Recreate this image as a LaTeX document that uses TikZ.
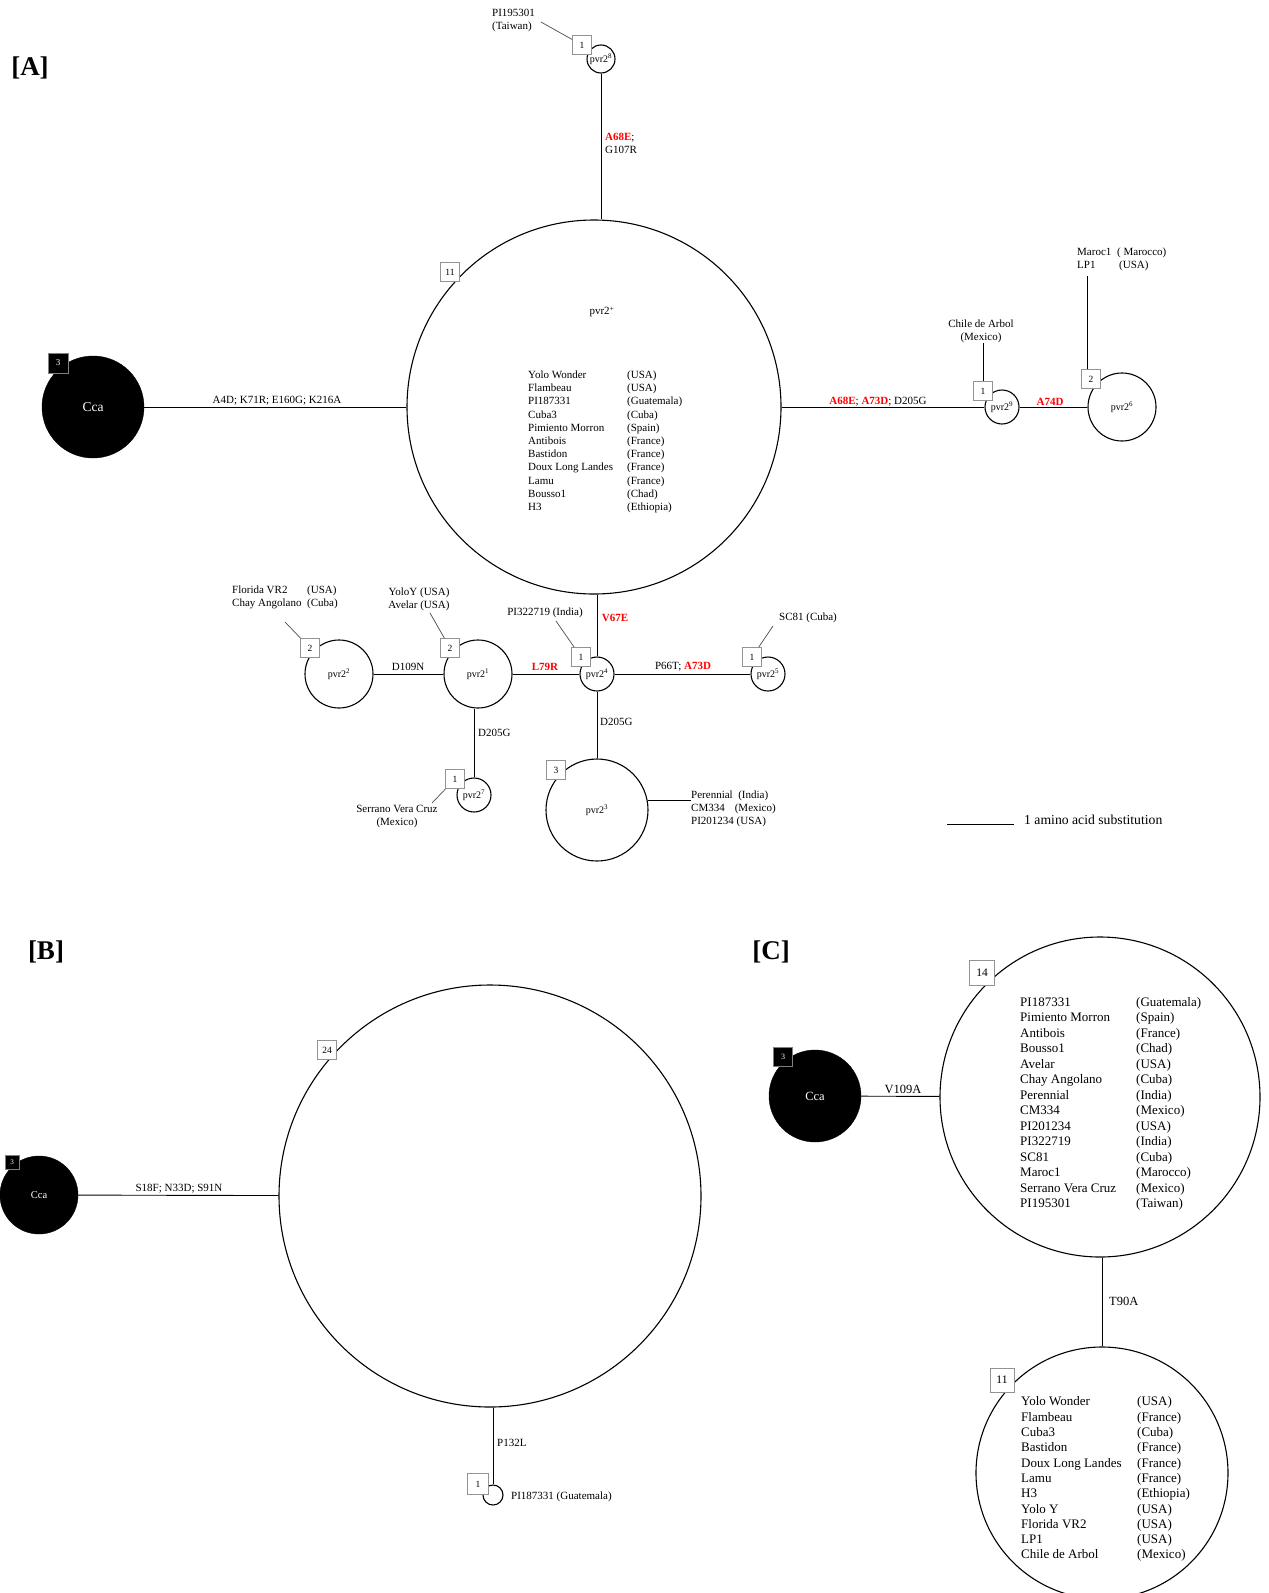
\documentclass[tikz,border=0pt]{standalone}
\usepackage{fontspec}
\setmainfont{Liberation Serif}
\begin{document}
\begin{tikzpicture}[x=1pt,y=-1pt,
 hap/.style={circle,draw,line width=1.1pt,inner sep=0pt,minimum size=#1,font=\fontsize{10}{10}\selectfont},
 outg/.style={circle,fill=black,draw=black,inner sep=0pt,minimum size=#1,text=white},
 cnt/.style={draw=gray!85,fill=white,line width=0.9pt,inner sep=0pt,minimum size=#1,font=\fontsize{9.5}{10}\selectfont},
 cntb/.style={draw=gray,fill=black,text=white,line width=0.9pt,inner sep=0pt,minimum size=#1,font=\fontsize{8}{9}\selectfont},
 edge/.style={line width=0.9pt},
 ptr/.style={draw=gray!60!black,line width=0.7pt},
 lbl/.style={inner sep=0pt,font=\fontsize{11}{13}\selectfont},
 lst/.style={inner sep=0pt,anchor=north west},
 panel/.style={inner sep=0pt,font=\fontsize{27}{28}\selectfont\bfseries}
]
\newcommand{\rmut}[1]{\textcolor{red}{\textbf{#1}}}
\path[use as bounding box] (0,0) rectangle (1269,1593);
% ================= [A] =================
\node[panel] (labA) at (30,68) {[A]};
\node[hap=374] (big) at (594,407) {};
\node[lbl] (plus) at (602,312) {pvr2\textsuperscript{+}};
\node[lst] (listA) at (528,369) {\fontsize{11}{13.2}\selectfont
 \begin{tabular}{@{}p{99pt}@{}l@{}}
 Yolo Wonder & (USA)\\ Flambeau & (USA)\\ PI187331 & (Guatemala)\\ Cuba3 & (Cuba)\\
 Pimiento Morron & (Spain)\\ Antibois & (France)\\ Bastidon & (France)\\
 Doux Long Landes & (France)\\ Lamu & (France)\\ Bousso1 & (Chad)\\ H3 & (Ethiopia)
 \end{tabular}};
\node[cnt=19] (b0) at (450,272) {11};
% pvr2^8
\node[hap=28] (p8) at (601,59) {pvr2\textsuperscript{8}};
\node[cnt=19] (b8) at (582,45) {1};
\node[lbl,align=left,anchor=west] (tai) at (492,21) {PI195301\\(Taiwan)};
\coordinate (t8) at (541,22);
\draw[ptr] (t8) -- (b8);
\draw[edge] (p8) -- (p8 |- big.north);
\node[lbl,align=left,anchor=west] (m8) at (605,143) {\rmut{A68E};\\G107R};
% Cca
\node[outg=102,font=\fontsize{13.5}{14}\selectfont] (ccaA) at (93,407) {Cca};
\node[cntb=20,font=\fontsize{9}{10}\selectfont] (bcA) at (58,363) {3};
\draw[edge] (ccaA) -- (big);
\node[lbl] (mA) at (277,401) {A4D; K71R; E160G; K216A};
% pvr2^9 and pvr2^6
\node[hap=34] (p9) at (1002,407) {pvr2\textsuperscript{9}};
\node[cnt=19] (b9) at (983,391) {1};
\node[lbl,align=center] (chile) at (981,331) {Chile de Arbol\\(Mexico)};
\draw[edge] (b9.north) -- (b9.north |- chile.south);
\draw[edge] (big) -- (p9);
\node[lbl] (m9) at (878,402) {\rmut{A68E}; \rmut{A73D}; D205G};
\node[hap=68] (p6) at (1122,407) {pvr2\textsuperscript{6}};
\node[cnt=19] (b6) at (1091,379) {2};
\node[lst,anchor=north west] (maroc) at (1077,246) {\fontsize{11}{13}\selectfont
 \begin{tabular}{@{}p{40pt}@{}l@{}}
 Maroc1 & ( Marocco)\\ LP1 & \hspace{2pt}(USA)
 \end{tabular}};
\coordinate (mtop) at (1087,276);
\draw[edge] (b6.north -| mtop) -- (mtop);
\draw[edge] (p9) -- (p6);
\node[lbl] (m6) at (1050,402) {\rmut{A74D}};
% lower network
\node[hap=34] (p4) at (597,674) {pvr2\textsuperscript{4}};
\node[cnt=19] (b4) at (581,657) {1};
\node[lbl] (india) at (545,613) {PI322719 (India)};
\coordinate (t4) at (556,621);
\draw[ptr] (t4) -- (b4);
\draw[edge] (p4) -- (p4 |- big.south);
\node[lbl] (m4) at (615,618) {\rmut{V67E}};
\node[hap=68] (p1) at (478,674) {pvr2\textsuperscript{1}};
\node[cnt=19] (b1) at (450,648) {2};
\node[lbl,align=center] (yoloy) at (419,599) {YoloY (USA)\\Avelar (USA)};
\coordinate (t1) at (430,613);
\draw[ptr] (t1) -- (b1);
\draw[edge] (p1) -- (p4);
\node[lbl] (m1) at (545,667) {\rmut{L79R}};
\node[hap=68] (p2) at (339,674) {pvr2\textsuperscript{2}};
\node[cnt=19] (b2) at (310,648) {2};
\node[lst] (flor) at (232,584) {\fontsize{11}{13}\selectfont
 \begin{tabular}{@{}p{75pt}@{}l@{}}
 Florida VR2 & (USA)\\ Chay Angolano & (Cuba)
 \end{tabular}};
\coordinate (t2) at (285,622);
\draw[ptr] (t2) -- (b2);
\draw[edge] (p2) -- (p1);
\node[lbl] (m2) at (408,667) {D109N};
\node[hap=34] (p5) at (768,674) {pvr2\textsuperscript{5}};
\node[cnt=19] (b5) at (752,657) {1};
\node[lbl] (sc81) at (808,618) {SC81 (Cuba)};
\coordinate (t5) at (773,626);
\draw[ptr] (t5) -- (b5);
\draw[edge] (p4) -- (p5);
\node[lbl] (m5) at (683,667) {P66T; \rmut{A73D}};
\node[hap=102] (p3) at (597,810) {pvr2\textsuperscript{3}};
\node[cnt=19] (b3) at (556,770) {3};
\draw[edge] (p4) -- (p3);
\node[lbl,anchor=west] (m3) at (600,722) {D205G};
\node[lbl,anchor=west,align=left] (per) at (691,809) {Perennial\ \ (India)\\CM334\hspace{10pt}(Mexico)\\PI201234 (USA)};
\draw[edge] (p3.11) -- (p3.11 -| per.west);
\node[hap=34] (p7) at (474,795) {pvr2\textsuperscript{7}};
\node[cnt=19] (b7) at (455,779) {1};
\draw[edge] (p7.north) -- (p7.north |- p1.south);
\node[lbl,anchor=west] (m7) at (478,733) {D205G};
\node[lbl,align=center] (serr) at (397,817) {Serrano Vera Cruz\\(Mexico)};
\coordinate (t7) at (432,803);
\draw[ptr] (t7) -- (b7);
% scale bar
\coordinate (s1) at (947,824);
\coordinate (s2) at (1014,824);
\draw[edge] (s1) -- (s2);
\node[lbl,anchor=west,font=\fontsize{13.7}{15}\selectfont] (scl) at (1024,820) {1 amino acid substitution};
% ================= [B] =================
\node[panel] (labB) at (46,952) {[B]};
\node[outg=78,font=\fontsize{10.5}{11}\selectfont] (ccaB) at (39,1195) {Cca};
\node[cntb=14,font=\fontsize{7}{8}\selectfont] (bcB) at (12,1162) {3};
\node[hap=422] (bigB) at (490,1196) {};
\draw[edge] (ccaB) -- (bigB);
\node[lbl] (mB) at (179,1189) {S18F; N33D; S91N};
\node[cnt=19] (b24) at (327,1050) {24};
\node[hap=20] (sB) at (493,1495) {};
\draw[edge] (sB.north) -- (sB.north |- bigB.south);
\node[lbl,anchor=west] (mB2) at (497,1443) {P132L};
\node[cnt=21] (bB1) at (478,1484) {1};
\node[lbl,anchor=west] (guat) at (511,1497) {PI187331 (Guatemala)};
% ================= [C] =================
\node[panel] (labC) at (771,952) {[C]};
\node[outg=92,font=\fontsize{12.5}{13}\selectfont] (ccaC) at (815,1096) {Cca};
\node[cntb=19] (bcC) at (783,1057) {3};
\node[hap=320] (C1) at (1100,1097) {};
\draw[edge] (ccaC) -- (C1);
\node[lbl,font=\fontsize{12.5}{13}\selectfont] (mC) at (903,1089) {V109A};
\node[cnt=25,font=\fontsize{11.5}{12}\selectfont] (b14) at (982,973) {14};
\node[lst] (listC1) at (1020,995) {\fontsize{13}{15.5}\selectfont
 \begin{tabular}{@{}p{116pt}@{}l@{}}
 PI187331 & (Guatemala)\\ Pimiento Morron & (Spain)\\ Antibois & (France)\\
 Bousso1 & (Chad)\\ Avelar & (USA)\\ Chay Angolano & (Cuba)\\ Perennial & (India)\\
 CM334 & (Mexico)\\ PI201234 & (USA)\\ PI322719 & (India)\\ SC81 & (Cuba)\\
 Maroc1 & (Marocco)\\ Serrano Vera Cruz & (Mexico)\\ PI195301 & (Taiwan)
 \end{tabular}};
\node[hap=252] (C2) at (1102,1473) {};
\draw[edge] (C2.north) -- (C2.north |- C1.south);
\node[lbl,anchor=west,font=\fontsize{12.5}{13}\selectfont] (mC2) at (1109,1301) {T90A};
\node[cnt=24,font=\fontsize{11.5}{12}\selectfont] (b11) at (1002,1380) {11};
\node[lst] (listC2) at (1021,1395) {\fontsize{13}{15.3}\selectfont
 \begin{tabular}{@{}p{116pt}@{}l@{}}
 Yolo Wonder & (USA)\\ Flambeau & (France)\\ Cuba3 & (Cuba)\\ Bastidon & (France)\\
 Doux Long Landes & (France)\\ Lamu & (France)\\ H3 & (Ethiopia)\\ Yolo Y & (USA)\\
 Florida VR2 & (USA)\\ LP1 & (USA)\\ Chile de Arbol & (Mexico)
 \end{tabular}};
\end{tikzpicture}
\end{document}
